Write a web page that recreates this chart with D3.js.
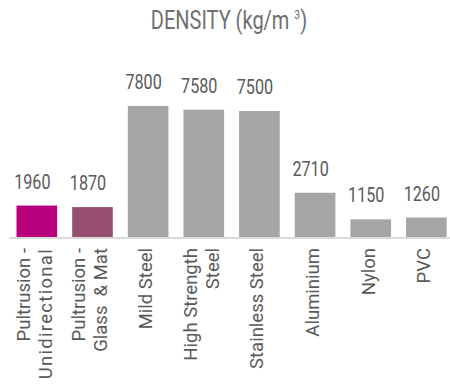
<!DOCTYPE html>
<html>
<head>
<meta charset="utf-8">
<script src="https://cdn.jsdelivr.net/npm/d3@7"></script>
<style>
  html, body { margin: 0; padding: 0; background: #fff; }
  svg { display: block; }
  text { font-family: Roboto, "Noto Sans", sans-serif; }
</style>
</head>
<body>
<svg id="chart" width="450" height="385"></svg>
<script>
// Material densities in kg/m³
const categories = [
  ["Pultrusion -", "Unidirectional"],
  ["Pultrusion -", "Glass  & Mat"],
  ["Mild Steel"],
  ["High Strength", "Steel"],
  ["Stainless Steel"],
  ["Aluminium"],
  ["Nylon"],
  ["PVC"]
];
const densities = [1960, 1870, 7800, 7580, 7500, 2710, 1150, 1260];
const barColors = ["#b6007c", "#964f6f", "#a5a5a5", "#a5a5a5", "#a5a5a5", "#a5a5a5", "#a5a5a5", "#a5a5a5"];
const titleMain = "DENSITY (kg/m ";
const titleSup = "3";
const titleEnd = ")";

const svg = d3.select("#chart");
const keys = categories.map((c, i) => i);

const x = d3.scaleBand()
  .domain(keys)
  .range([9, 454.2])
  .paddingInner(0.27)
  .paddingOuter(0.135);

const y = d3.scaleLinear()
  .domain([0, 8000])
  .range([239, 102.5]);

const condensed = 0.77; // horizontal squeeze for the narrow display face

// Title
const title = svg.append("text")
  .attr("transform", `translate(229,29) scale(0.8,1)`)
  .attr("text-anchor", "middle")
  .attr("fill", "#6f6f6f")
  .attr("font-size", 25)
  .style("white-space", "pre");
title.append("tspan").text(titleMain);
title.append("tspan").attr("font-size", 13).attr("dy", -10).text(titleSup);
title.append("tspan").attr("dy", 10).text(titleEnd);

// Bars
svg.append("g")
  .selectAll("rect")
  .data(densities)
  .join("rect")
  .attr("x", (d, i) => x(i))
  .attr("width", x.bandwidth())
  .attr("y", d => y(d))
  .attr("height", d => y(0) - y(d))
  .attr("fill", (d, i) => barColors[i]);

// Baseline axis
const axis = svg.append("g")
  .attr("transform", "translate(0,237.5)")
  .call(d3.axisBottom(x).tickSize(0).tickSizeOuter(0).tickFormat(""));
axis.select(".domain").attr("stroke", "#d9d9d9").attr("stroke-width", 2);
axis.selectAll(".tick").remove();

// Value labels
svg.append("g")
  .selectAll("text")
  .data(densities)
  .join("text")
  .attr("transform", (d, i) =>
    `translate(${x(i) + x.bandwidth() / 2 - 4.5},${y(d) - 17}) scale(${condensed},1)`)
  .attr("text-anchor", "middle")
  .attr("fill", "#595959")
  .attr("font-size", 21)
  .text(d => d);

// Rotated category labels
const lineHeight = 22;
const labels = svg.append("g")
  .selectAll("g")
  .data(categories)
  .join("g")
  .attr("transform", (d, i) => `translate(${x(i) + x.bandwidth() / 2},248)`);

labels.each(function(lines, i) {
  const g = d3.select(this);
  lines.forEach((line, j) => {
    const offset = (j - (lines.length - 1) / 2) * lineHeight + 4;
    g.append("text")
      .attr("transform", `translate(${offset},0) rotate(-90)`)
      .attr("text-anchor", "end")
      .attr("fill", "#595959")
      .attr("font-size", 18.5)
      .style("white-space", "pre")
      .style("letter-spacing", i === 0 && j === 1 ? "1.3px" : null)
      .text(line);
  });
});
</script>
</body>
</html>
